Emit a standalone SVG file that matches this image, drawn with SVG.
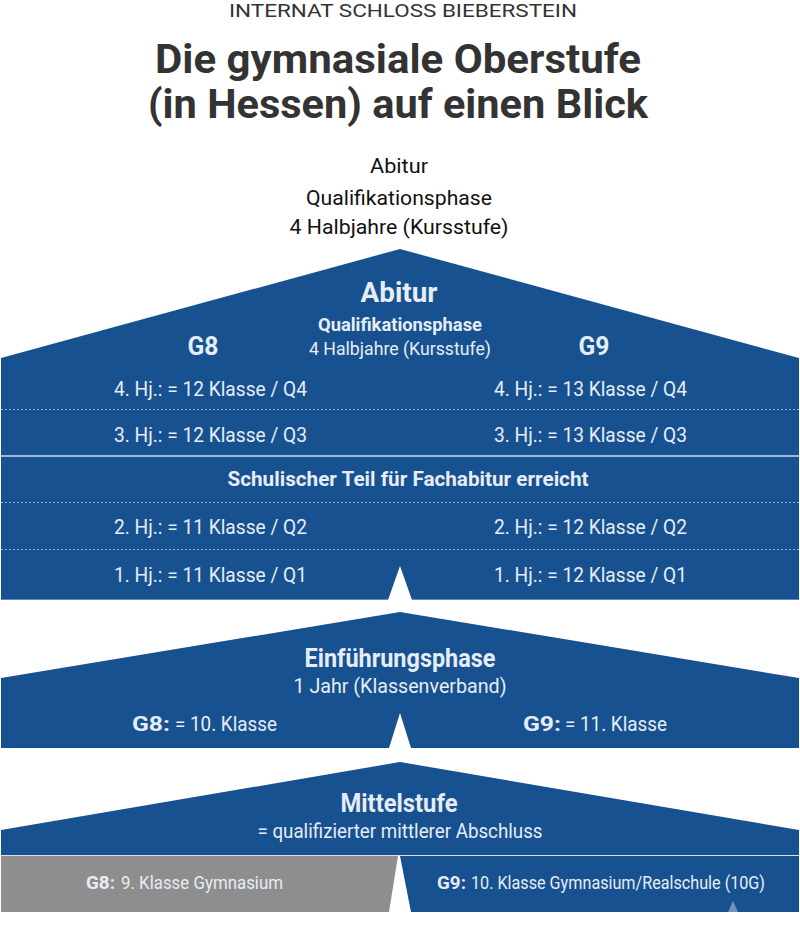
<svg xmlns="http://www.w3.org/2000/svg" width="800" height="945" viewBox="0 0 800 945">
<style>
.blue{fill:#18518f}
.gray{fill:#8e8e8e}
.t{font-family:Roboto,"Liberation Sans",sans-serif;fill:#e6edf6}
.c{text-anchor:middle}
.b{font-weight:bold}
.dot{stroke:#8fb0d8;stroke-width:1;stroke-dasharray:2 2}
.hd{font-family:Roboto,"Liberation Sans",sans-serif;fill:#333333;text-anchor:middle}
.blk{font-family:Roboto,"Liberation Sans",sans-serif;fill:#111111;text-anchor:middle}
</style>
<rect width="800" height="945" fill="#ffffff"/>
<g id="header">
<text class="hd" x="403" y="17" font-size="19" textLength="348" lengthAdjust="spacingAndGlyphs">INTERNAT SCHLOSS BIEBERSTEIN</text>
<text class="hd b" x="398" y="73" font-size="40" textLength="486" lengthAdjust="spacingAndGlyphs">Die gymnasiale Oberstufe</text>
<text class="hd b" x="398" y="118" font-size="40" textLength="500" lengthAdjust="spacingAndGlyphs">(in Hessen) auf einen Blick</text>
</g>
<g id="caption">
<text class="blk" x="399" y="173" font-size="20" textLength="58" lengthAdjust="spacingAndGlyphs">Abitur</text>
<text class="blk" x="399" y="205" font-size="20" textLength="186" lengthAdjust="spacingAndGlyphs">Qualifikationsphase</text>
<text class="blk" x="399" y="234" font-size="20" textLength="219" lengthAdjust="spacingAndGlyphs">4 Halbjahre (Kursstufe)</text>
</g>
<g id="qualifikationsphase">
<polygon class="blue" points="1,358 400,249 799,358 799,600 412,600 400,566 388,600 1,600"/>
<line x1="1" y1="599.5" x2="388" y2="599.5" stroke="#5f8bbd" stroke-width="1"/>
<line x1="412" y1="599.5" x2="799" y2="599.5" stroke="#5f8bbd" stroke-width="1"/>
<line class="dot" x1="1" y1="409.5" x2="799" y2="409.5"/>
<line x1="1" y1="456" x2="799" y2="456" stroke="#c9d9ec" stroke-width="1.5"/>
<line class="dot" x1="1" y1="502.5" x2="799" y2="502.5"/>
<line class="dot" x1="1" y1="549.5" x2="799" y2="549.5"/>
<text class="t c b" x="399" y="302" font-size="27" textLength="77" lengthAdjust="spacingAndGlyphs">Abitur</text>
<text class="t c b" x="400" y="331" font-size="18" textLength="164" lengthAdjust="spacingAndGlyphs">Qualifikationsphase</text>
<text class="t c" x="400" y="355" font-size="18" textLength="182" lengthAdjust="spacingAndGlyphs">4 Halbjahre (Kursstufe)</text>
<text class="t c b" x="203" y="355" font-size="25" textLength="31" lengthAdjust="spacingAndGlyphs">G8</text>
<text class="t c b" x="594" y="355" font-size="25" textLength="31" lengthAdjust="spacingAndGlyphs">G9</text>
<text class="t" x="114" y="396" font-size="21" textLength="193" lengthAdjust="spacingAndGlyphs">4. Hj.: = 12 Klasse / Q4</text>
<text class="t" x="494" y="396" font-size="21" textLength="193" lengthAdjust="spacingAndGlyphs">4. Hj.: = 13 Klasse / Q4</text>
<text class="t" x="114" y="442" font-size="21" textLength="193" lengthAdjust="spacingAndGlyphs">3. Hj.: = 12 Klasse / Q3</text>
<text class="t" x="494" y="442" font-size="21" textLength="193" lengthAdjust="spacingAndGlyphs">3. Hj.: = 13 Klasse / Q3</text>
<text class="t c b" x="408" y="486" font-size="20" textLength="361" lengthAdjust="spacingAndGlyphs">Schulischer Teil für Fachabitur erreicht</text>
<text class="t" x="114" y="534" font-size="21" textLength="193" lengthAdjust="spacingAndGlyphs">2. Hj.: = 11 Klasse / Q2</text>
<text class="t" x="494" y="534" font-size="21" textLength="193" lengthAdjust="spacingAndGlyphs">2. Hj.: = 12 Klasse / Q2</text>
<text class="t" x="114" y="582" font-size="21" textLength="193" lengthAdjust="spacingAndGlyphs">1. Hj.: = 11 Klasse / Q1</text>
<text class="t" x="494" y="582" font-size="21" textLength="193" lengthAdjust="spacingAndGlyphs">1. Hj.: = 12 Klasse / Q1</text>
</g>
<g id="einfuehrungsphase">
<polygon class="blue" points="1,678 400,612 799,678 799,748 411,748 400,713 389,748 1,748"/>
<text class="t c b" x="400" y="667" font-size="25" textLength="191" lengthAdjust="spacingAndGlyphs">Einführungsphase</text>
<text class="t c" x="400" y="693" font-size="20" textLength="213" lengthAdjust="spacingAndGlyphs">1 Jahr (Klassenverband)</text>
<text class="t b" x="132" y="731" font-size="21" textLength="38" lengthAdjust="spacingAndGlyphs">G8:</text>
<text class="t" x="175" y="731" font-size="21" textLength="102" lengthAdjust="spacingAndGlyphs">= 10. Klasse</text>
<text class="t b" x="523" y="731" font-size="21" textLength="38" lengthAdjust="spacingAndGlyphs">G9:</text>
<text class="t" x="565" y="731" font-size="21" textLength="102" lengthAdjust="spacingAndGlyphs">= 11. Klasse</text>
</g>
<g id="mittelstufe">
<polygon class="blue" points="1,830 400,762 799,830 799,855 1,855"/>
<line x1="1" y1="855.5" x2="799" y2="855.5" stroke="#d3e1f0" stroke-width="1.2"/>
<polygon class="gray" points="1,856 398,856 389,912 1,912"/>
<polygon class="blue" points="400,856 799,856 799,912 411,912"/>
<polygon fill="#6d93c2" points="733,901 738,912 728,912"/>
<text class="t c b" x="399" y="812" font-size="25" textLength="117" lengthAdjust="spacingAndGlyphs">Mittelstufe</text>
<text class="t c" x="400" y="838" font-size="20" textLength="285" lengthAdjust="spacingAndGlyphs">= qualifizierter mittlerer Abschluss</text>
<text class="t b" x="86" y="889" font-size="19" textLength="29" lengthAdjust="spacingAndGlyphs">G8:</text>
<text class="t" x="121" y="889" font-size="19" textLength="162" lengthAdjust="spacingAndGlyphs">9. Klasse Gymnasium</text>
<text class="t b" x="437" y="889" font-size="19" textLength="29" lengthAdjust="spacingAndGlyphs">G9:</text>
<text class="t" x="471" y="889" font-size="18" textLength="294" lengthAdjust="spacingAndGlyphs">10. Klasse Gymnasium/Realschule (10G)</text>
</g>
<g id="connectors"/>
</svg>
